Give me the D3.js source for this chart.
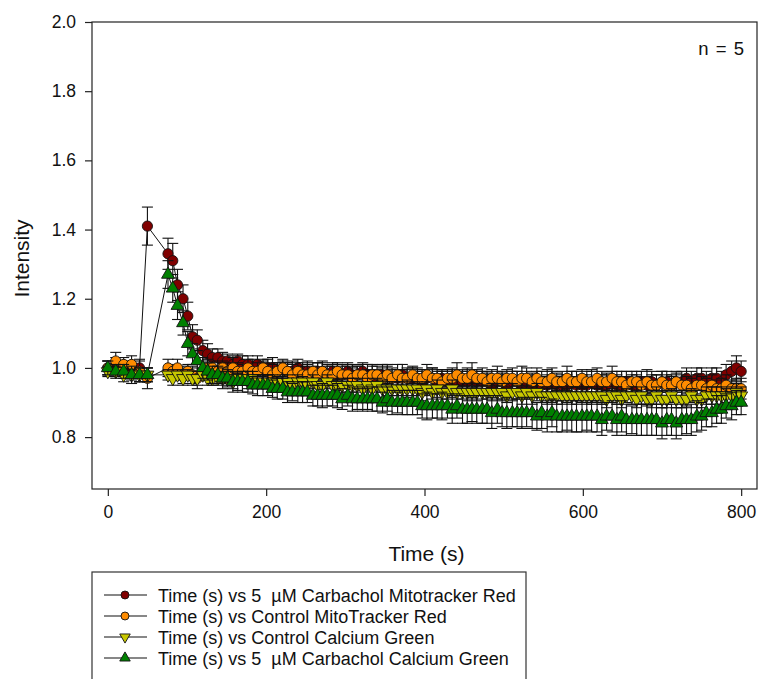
<!DOCTYPE html>
<html>
<head>
<meta charset="utf-8">
<script src="https://cdn.jsdelivr.net/npm/d3@7/dist/d3.min.js"></script>
<style>
  html, body { margin: 0; padding: 0; background: #fff; }
  svg { display: block; }
  text { font-family: Arial, "Liberation Sans", sans-serif; fill: #111; }
</style>
</head>
<body>
<svg id="chart" width="760" height="679"></svg>
<script>
// ---------------- data ----------------
const times = [0,10,20,30,40,50,
  76,82,88,95,101,107,113,120,126,132,
  139,145,151,158,164,170,177,183,189,196,
  202,208,214,221,227,233,240,246,252,259,
  265,271,277,284,290,296,303,309,315,322,
  328,334,340,347,353,359,366,372,378,385,
  391,397,403,410,416,422,429,435,441,448,
  454,460,466,473,479,485,492,498,504,511,
  517,523,529,536,542,548,555,561,567,574,
  580,586,592,599,605,611,618,624,630,637,
  643,649,655,662,668,674,681,687,693,700,
  706,712,718,725,731,737,744,750,756,763,
  769,775,781,788,794,800];

const carbacholMito = [1.00,1.01,1.00,0.99,1.00,1.41,
  1.33,1.31,1.24,1.20,1.15,1.09,1.08,1.05,1.04,1.03,
  1.03,1.02,1.02,1.01,1.02,1.01,1.01,1.00,1.01,1.00,
  1.00,1.00,0.99,1.00,0.99,0.99,1.00,0.99,0.99,0.98,
  0.99,0.99,0.98,0.99,0.98,0.98,0.99,0.98,0.98,0.99,
  0.98,0.98,0.97,0.98,0.98,0.97,0.97,0.98,0.97,0.97,
  0.97,0.96,0.97,0.97,0.96,0.97,0.96,0.97,0.96,0.96,
  0.96,0.97,0.96,0.96,0.96,0.95,0.96,0.96,0.95,0.96,
  0.96,0.95,0.96,0.95,0.96,0.95,0.95,0.96,0.95,0.95,
  0.95,0.96,0.95,0.95,0.95,0.96,0.95,0.95,0.95,0.96,
  0.95,0.95,0.96,0.95,0.95,0.96,0.95,0.96,0.95,0.96,
  0.96,0.95,0.96,0.96,0.97,0.96,0.97,0.97,0.96,0.97,
  0.97,0.96,0.98,0.99,1.00,0.99];
const carbacholMitoErr = [0.02,0.02,0.02,0.02,0.025,0.055,
  0.045,0.05,0.045,0.04,0.04,0.035,0.03,0.03,0.03,0.025,
  0.025,0.025,0.02,0.025,0.02,0.025,0.025,0.02,0.025,0.025,
  0.025,0.03,0.025,0.025,0.025,0.03,0.025,0.025,0.03,0.025,
  0.025,0.03,0.025,0.025,0.03,0.025,0.025,0.03,0.025,0.025,
  0.03,0.025,0.025,0.03,0.025,0.03,0.025,0.03,0.025,0.03,
  0.025,0.03,0.025,0.03,0.03,0.025,0.03,0.025,0.03,0.03,
  0.03,0.025,0.03,0.03,0.025,0.03,0.03,0.025,0.03,0.03,
  0.03,0.025,0.03,0.03,0.03,0.025,0.03,0.03,0.025,0.03,
  0.03,0.03,0.025,0.03,0.03,0.03,0.025,0.03,0.03,0.03,
  0.03,0.025,0.03,0.03,0.03,0.03,0.025,0.03,0.03,0.03,
  0.03,0.03,0.025,0.03,0.03,0.03,0.03,0.03,0.03,0.03,
  0.03,0.03,0.03,0.03,0.035,0.03];

const controlMito = [1.00,1.02,1.01,1.01,0.99,0.97,
  1.00,0.99,1.00,0.98,0.99,0.98,0.97,0.99,1.00,1.00,
  0.99,1.00,0.99,1.00,0.99,0.99,1.00,0.99,0.99,1.00,
  0.99,0.98,0.99,1.00,0.99,0.98,0.99,0.98,0.98,0.99,
  0.98,0.99,0.98,0.98,0.99,0.98,0.98,0.97,0.98,0.98,
  0.97,0.98,0.98,0.97,0.98,0.97,0.98,0.97,0.97,0.98,
  0.97,0.97,0.98,0.97,0.97,0.96,0.97,0.97,0.98,0.97,
  0.97,0.98,0.97,0.97,0.96,0.97,0.97,0.96,0.97,0.97,
  0.96,0.97,0.97,0.96,0.97,0.96,0.96,0.97,0.96,0.96,
  0.97,0.96,0.96,0.97,0.96,0.96,0.97,0.96,0.96,0.97,
  0.96,0.96,0.95,0.96,0.96,0.95,0.96,0.95,0.95,0.96,
  0.95,0.95,0.96,0.95,0.95,0.94,0.95,0.95,0.94,0.95,
  0.94,0.94,0.95,0.94,0.94,0.94];
const controlMitoErr = [0.02,0.025,0.02,0.025,0.03,0.03,
  0.025,0.02,0.025,0.025,0.02,0.025,0.03,0.02,0.025,0.02,
  0.025,0.02,0.025,0.03,0.025,0.02,0.025,0.035,0.025,0.02,
  0.025,0.03,0.025,0.02,0.025,0.03,0.025,0.025,0.03,0.025,
  0.035,0.025,0.03,0.025,0.025,0.03,0.025,0.03,0.025,0.03,
  0.025,0.03,0.025,0.03,0.03,0.025,0.03,0.025,0.03,0.025,
  0.03,0.025,0.03,0.03,0.025,0.03,0.025,0.03,0.035,0.025,
  0.03,0.035,0.025,0.03,0.03,0.025,0.035,0.03,0.025,0.03,
  0.03,0.035,0.03,0.025,0.03,0.03,0.035,0.03,0.025,0.03,
  0.035,0.03,0.03,0.025,0.03,0.035,0.03,0.03,0.025,0.035,
  0.03,0.03,0.025,0.03,0.03,0.025,0.035,0.03,0.03,0.03,
  0.03,0.025,0.03,0.03,0.025,0.03,0.03,0.025,0.03,0.03,
  0.025,0.03,0.03,0.025,0.03,0.03];

const controlCalcium = [0.99,0.99,0.98,0.98,0.98,0.98,
  0.98,0.97,0.98,0.97,0.98,0.97,0.97,0.98,0.97,0.97,
  0.97,0.97,0.97,0.96,0.97,0.97,0.96,0.97,0.96,0.96,
  0.96,0.96,0.96,0.96,0.96,0.95,0.96,0.96,0.95,0.96,
  0.95,0.95,0.96,0.95,0.95,0.95,0.95,0.95,0.95,0.94,
  0.95,0.94,0.95,0.94,0.94,0.94,0.94,0.94,0.94,0.94,
  0.94,0.93,0.94,0.93,0.94,0.93,0.93,0.94,0.93,0.93,
  0.93,0.93,0.93,0.93,0.93,0.93,0.93,0.93,0.92,0.93,
  0.93,0.92,0.93,0.92,0.93,0.92,0.92,0.92,0.92,0.92,
  0.92,0.92,0.92,0.92,0.92,0.92,0.92,0.92,0.91,0.92,
  0.92,0.91,0.92,0.92,0.91,0.92,0.91,0.91,0.92,0.91,
  0.91,0.92,0.91,0.91,0.91,0.92,0.91,0.91,0.92,0.92,
  0.92,0.92,0.92,0.92,0.93,0.92];
const controlCalciumErr = [0.015,0.015,0.02,0.015,0.02,0.02,
  0.015,0.02,0.015,0.02,0.015,0.02,0.02,0.015,0.02,0.02,
  0.02,0.015,0.02,0.02,0.015,0.02,0.02,0.02,0.015,0.02,
  0.02,0.02,0.015,0.02,0.02,0.02,0.02,0.015,0.02,0.02,
  0.02,0.02,0.02,0.02,0.015,0.02,0.02,0.02,0.02,0.02,
  0.02,0.02,0.02,0.025,0.02,0.02,0.02,0.02,0.025,0.02,
  0.02,0.025,0.02,0.02,0.025,0.02,0.02,0.025,0.02,0.02,
  0.025,0.02,0.025,0.02,0.02,0.025,0.02,0.025,0.02,0.025,
  0.02,0.025,0.02,0.025,0.025,0.02,0.025,0.02,0.025,0.025,
  0.02,0.025,0.025,0.02,0.025,0.025,0.02,0.025,0.025,0.02,
  0.025,0.025,0.02,0.025,0.025,0.025,0.02,0.025,0.025,0.025,
  0.025,0.02,0.025,0.025,0.025,0.02,0.025,0.025,0.025,0.025,
  0.025,0.025,0.02,0.025,0.025,0.025];

const carbacholCalcium = [1.00,0.99,0.99,0.98,0.98,0.98,
  1.27,1.23,1.18,1.13,1.07,1.04,1.02,1.00,0.99,0.98,
  0.98,0.97,0.97,0.96,0.96,0.96,0.96,0.95,0.95,0.95,
  0.95,0.94,0.94,0.94,0.93,0.93,0.93,0.93,0.93,0.92,
  0.92,0.92,0.92,0.92,0.92,0.91,0.92,0.91,0.91,0.91,
  0.91,0.91,0.91,0.90,0.91,0.90,0.90,0.90,0.90,0.90,
  0.90,0.89,0.89,0.89,0.89,0.89,0.89,0.88,0.89,0.88,
  0.88,0.88,0.88,0.88,0.88,0.87,0.88,0.87,0.87,0.87,
  0.87,0.87,0.87,0.87,0.86,0.87,0.86,0.87,0.86,0.86,
  0.86,0.86,0.86,0.86,0.86,0.86,0.86,0.85,0.86,0.86,
  0.85,0.86,0.85,0.85,0.85,0.85,0.85,0.85,0.85,0.84,
  0.85,0.85,0.84,0.85,0.85,0.85,0.86,0.86,0.87,0.87,
  0.88,0.88,0.89,0.89,0.90,0.90];
const carbacholCalciumErr = [0.02,0.02,0.02,0.025,0.02,0.02,
  0.04,0.04,0.04,0.035,0.035,0.03,0.03,0.03,0.025,0.025,
  0.025,0.03,0.025,0.03,0.025,0.03,0.03,0.025,0.03,0.03,
  0.03,0.025,0.03,0.03,0.03,0.025,0.03,0.03,0.03,0.03,
  0.03,0.035,0.03,0.03,0.035,0.03,0.03,0.035,0.03,0.035,
  0.03,0.035,0.035,0.03,0.035,0.035,0.03,0.035,0.035,0.035,
  0.035,0.035,0.04,0.035,0.035,0.04,0.035,0.04,0.035,0.04,
  0.04,0.035,0.04,0.04,0.04,0.045,0.04,0.04,0.045,0.04,
  0.04,0.045,0.04,0.045,0.04,0.045,0.045,0.04,0.045,0.045,
  0.04,0.045,0.045,0.045,0.04,0.045,0.045,0.045,0.04,0.045,
  0.045,0.045,0.045,0.04,0.045,0.045,0.045,0.045,0.045,0.045,
  0.045,0.045,0.045,0.045,0.04,0.045,0.045,0.04,0.04,0.04,
  0.04,0.04,0.035,0.04,0.035,0.035];

const seriesNames = [
  "Time (s) vs 5  \u00B5M Carbachol Mitotracker Red",
  "Time (s) vs Control MitoTracker Red",
  "Time (s) vs Control Calcium Green",
  "Time (s) vs 5  \u00B5M Carbachol Calcium Green"
];
const seriesColors = ["#800000", "#ff8c00", "#c8c800", "#008000"];
const seriesSymbols = ["circle", "circle", "triangleDown", "triangleUp"];
const seriesValues = [carbacholMito, controlMito, controlCalcium, carbacholCalcium];
const seriesErrors = [carbacholMitoErr, controlMitoErr, controlCalciumErr, carbacholCalciumErr];

const xTicks = [0, 200, 400, 600, 800];
const yTicks = [0.8, 1.0, 1.2, 1.4, 1.6, 1.8, 2.0];
const xTitle = "Time (s)";
const yTitle = "Intensity";
const note = "n = 5";

// ---------------- chart ----------------
const svg = d3.select("#chart");
const plot = { left: 92, right: 757, top: 22, bottom: 489 };

const x = d3.scaleLinear().domain([-20, 820]).range([plot.left, plot.right]);
const y = d3.scaleLinear().domain([0.65, 2.0]).range([plot.bottom, plot.top]);

// frame
svg.append("rect")
  .attr("x", plot.left).attr("y", plot.top)
  .attr("width", plot.right - plot.left).attr("height", plot.bottom - plot.top)
  .attr("fill", "none").attr("stroke", "#222").attr("stroke-width", 1.2);

// axes
const xAxis = svg.append("g")
  .attr("transform", `translate(0,${plot.bottom})`)
  .call(d3.axisBottom(x).tickValues(xTicks).tickFormat(d3.format("d")).tickSizeOuter(0).tickSize(7).tickPadding(10));
const yAxis = svg.append("g")
  .attr("transform", `translate(${plot.left},0)`)
  .call(d3.axisLeft(y).tickValues(yTicks).tickFormat(d3.format(".1f")).tickSizeOuter(0).tickSize(7).tickPadding(9));
[xAxis, yAxis].forEach(g => {
  g.select(".domain").remove();
  g.selectAll(".tick line").attr("stroke", "#222").attr("stroke-width", 1.2);
  g.selectAll(".tick text").attr("font-size", 17.5).attr("fill", "#111")
    .attr("font-family", "Arial, 'Liberation Sans', sans-serif");
});

// axis titles
svg.append("text")
  .attr("x", (plot.left + plot.right) / 2 + 2).attr("y", 561)
  .attr("text-anchor", "middle").attr("font-size", 21).text(xTitle);
svg.append("text")
  .attr("transform", `translate(29,${(plot.top + plot.bottom) / 2 + 3}) rotate(-90)`)
  .attr("text-anchor", "middle").attr("font-size", 21).text(yTitle);

// note
svg.append("text")
  .attr("x", 744).attr("y", 55)
  .attr("text-anchor", "end").attr("font-size", 18.5).attr("word-spacing", 2).text(note);

// symbol generator
function symbolPath(kind, size) {
  if (kind === "circle") return d3.symbol(d3.symbolCircle, size)();
  return d3.symbol(d3.symbolTriangle, size)();
}

const line = d3.line().x(d => x(d.t)).y(d => y(d.v));
const capW = 5.5;

seriesValues.forEach((vals, si) => {
  const data = times.map((t, i) => ({ t, v: vals[i], e: seriesErrors[si][i] }));
  const g = svg.append("g");
  // error bars
  const eb = g.append("g").attr("stroke", "#111").attr("stroke-width", 1.1);
  data.forEach(d => {
    const x0 = x(d.t), yt = y(d.v + d.e), yb = y(d.v - d.e);
    eb.append("line").attr("x1", x0).attr("x2", x0).attr("y1", yt).attr("y2", yb);
    eb.append("line").attr("x1", x0 - capW).attr("x2", x0 + capW).attr("y1", yt).attr("y2", yt);
    eb.append("line").attr("x1", x0 - capW).attr("x2", x0 + capW).attr("y1", yb).attr("y2", yb);
  });
  // connecting line
  g.append("path").datum(data).attr("d", line)
    .attr("fill", "none").attr("stroke", "#111").attr("stroke-width", 1);
  // markers
  const kind = seriesSymbols[si];
  const size = kind === "circle" ? 82 : 72;
  g.selectAll("path.mk").data(data).enter().append("path")
    .attr("class", "mk")
    .attr("d", symbolPath(kind, size))
    .attr("transform", d => `translate(${x(d.t)},${y(d.v)})` + (kind === "triangleDown" ? " rotate(180)" : ""))
    .attr("fill", seriesColors[si]).attr("stroke", "#111").attr("stroke-width", 0.9);
});

// legend
const lg = svg.append("g");
lg.append("rect").attr("x", 92).attr("y", 572).attr("width", 434).attr("height", 120)
  .attr("fill", "#fff").attr("stroke", "#333").attr("stroke-width", 1.2);
seriesNames.forEach((name, i) => {
  const cy = 595 + i * 21;
  lg.append("line").attr("x1", 104).attr("x2", 147).attr("y1", cy).attr("y2", cy)
    .attr("stroke", "#111").attr("stroke-width", 1.2);
  const kind = seriesSymbols[i];
  lg.append("path")
    .attr("d", symbolPath(kind, kind === "circle" ? 50 : 48))
    .attr("transform", `translate(125,${cy})` + (kind === "triangleDown" ? " rotate(180)" : ""))
    .attr("fill", seriesColors[i]).attr("stroke", "#111").attr("stroke-width", 0.9);
  lg.append("text").attr("x", 158).attr("y", cy + 6.5)
    .attr("font-size", 18).attr("xml:space", "preserve").style("white-space", "pre").text(name);
});
</script>
</body>
</html>
